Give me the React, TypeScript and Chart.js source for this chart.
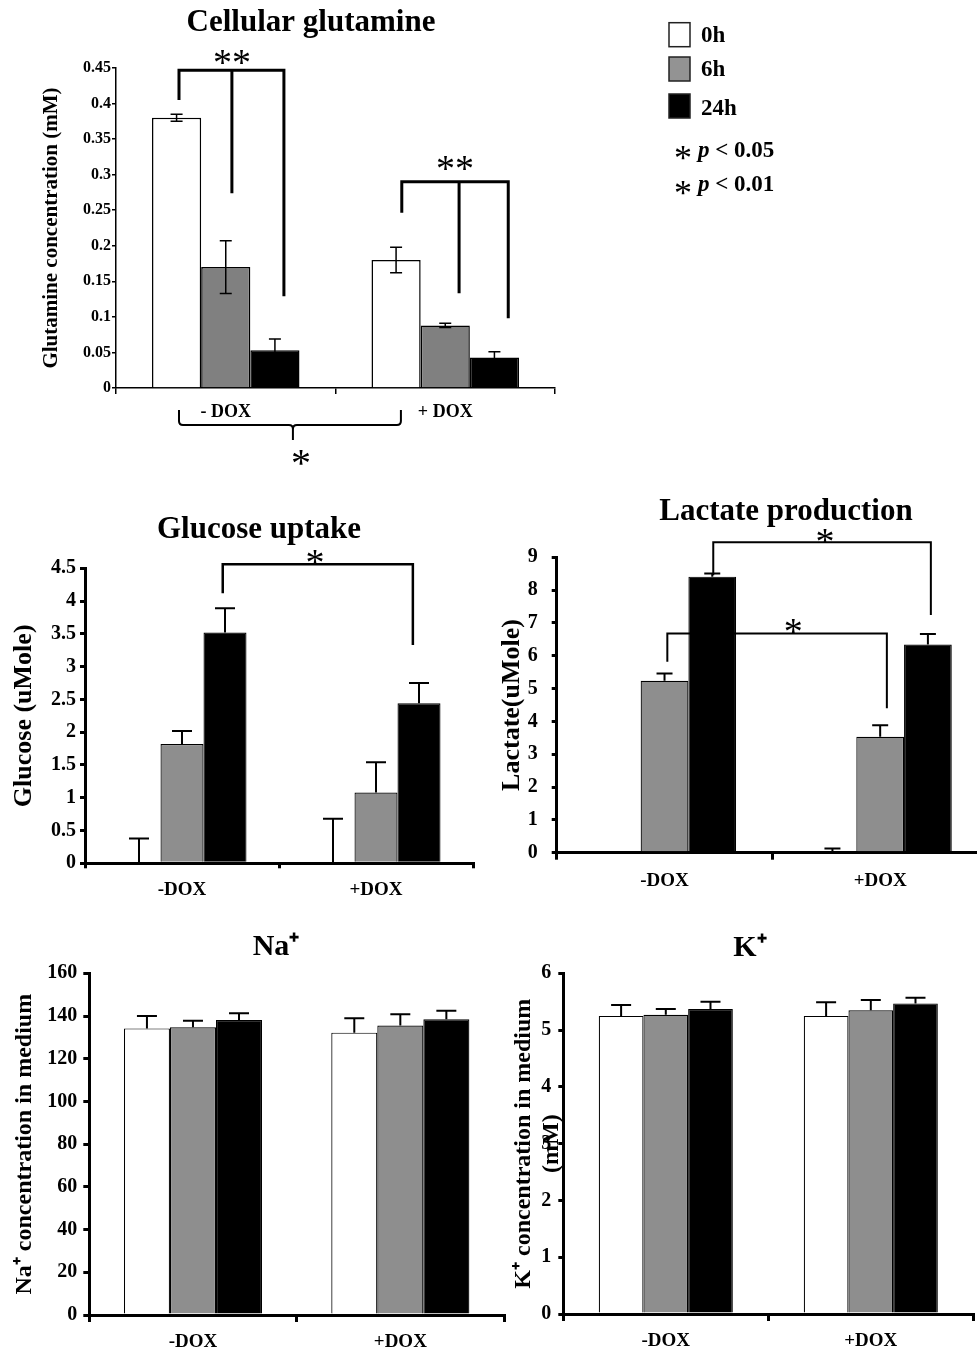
import React, { useEffect, useRef } from 'react';
import { Chart, registerables } from 'chart.js';

Chart.register(...registerables);

const SERIF = "'Liberation Serif', 'Times New Roman', Times, serif";

// ---------- shared ----------
const seriesNames = ['0h', '6h', '24h'];
const pNotes = ['< 0.05', '< 0.01'];

// ---------- Cellular glutamine ----------
const glutCategories = ['- DOX', '+ DOX'];
const glut0h = [0.38, 0.18];
const glut6h = [0.17, 0.088];
const glut24h = [0.053, 0.043];
const glut0hErr = [0.005, 0.018];
const glut6hErr = [0.037, 0.003];
const glut24hErr = [0.016, 0.008];
const glutTicks = [0, 0.05, 0.1, 0.15, 0.2, 0.25, 0.3, 0.35, 0.4, 0.45];
const glutTickLabels = ['0', '0.05', '0.1', '0.15', '0.2', '0.25', '0.3', '0.35', '0.4', '0.45'];

// ---------- Glucose uptake ----------
const doxCategories = ['-DOX', '+DOX'];
const glucose0h = [0, 0];
const glucose6h = [1.82, 1.08];
const glucose24h = [3.52, 2.44];
const glucose0hErr = [0.38, 0.68];
const glucose6hErr = [0.2, 0.46];
const glucose24hErr = [0.37, 0.31];
const glucoseTicks = [0, 0.5, 1, 1.5, 2, 2.5, 3, 3.5, 4, 4.5];
const glucoseTickLabels = ['0', '0.5', '1', '1.5', '2', '2.5', '3', '3.5', '4', '4.5'];

// ---------- Lactate production ----------
const lactate0h = [0, 0];
const lactate6h = [5.24, 3.53];
const lactate24h = [8.41, 6.34];
const lactate0hErr = [0, 0.13];
const lactate6hErr = [0.22, 0.35];
const lactate24hErr = [0.1, 0.32];
const lactateTicks = [0, 1, 2, 3, 4, 5, 6, 7, 8, 9];
const lactateTickLabels = ['0', '1', '2', '3', '4', '5', '6', '7', '8', '9'];

// ---------- Na+ ----------
const na0h = [134.2, 132.2];
const na6h = [134.7, 135.5];
const na24h = [138.1, 138.5];
const na0hErr = [5.8, 6.7];
const na6hErr = [3.1, 5.3];
const na24hErr = [3.2, 4.0];
const naTicks = [0, 20, 40, 60, 80, 100, 120, 140, 160];
const naTickLabels = ['0', '20', '40', '60', '80', '100', '120', '140', '160'];

// ---------- K+ ----------
const k0h = [5.25, 5.25];
const k6h = [5.27, 5.35];
const k24h = [5.37, 5.47];
const k0hErr = [0.19, 0.24];
const k6hErr = [0.1, 0.18];
const k24hErr = [0.13, 0.1];
const kTicks = [0, 1, 2, 3, 4, 5, 6];
const kTickLabels = ['0', '1', '2', '3', '4', '5', '6'];

// ---------- helpers ----------
function drawStar(ctx: any, text: string, x: number, cy: number, size: number) {
  ctx.save();
  ctx.font = `${size}px ${SERIF}`;
  ctx.fillStyle = '#000';
  ctx.textAlign = 'center';
  ctx.textBaseline = 'alphabetic';
  const m = ctx.measureText(text);
  const base = cy + (m.actualBoundingBoxAscent - m.actualBoundingBoxDescent) / 2;
  ctx.fillText(text, x, base);
  ctx.restore();
}

const errorBarPlugin = {
  id: 'errorBars',
  afterDatasetsDraw(chart: any, _args: any, opts: any) {
    const errs: number[][] = opts.errors;
    if (!errs) return;
    const ctx = chart.ctx;
    const ys = chart.scales.y;
    ctx.save();
    ctx.strokeStyle = '#000';
    ctx.lineWidth = opts.lineWidth;
    chart.data.datasets.forEach((ds: any, d: number) => {
      const meta = chart.getDatasetMeta(d);
      meta.data.forEach((bar: any, i: number) => {
        const e = errs[d][i];
        if (!e) return;
        const v = ds.data[i];
        const x = bar.x;
        const yTop = ys.getPixelForValue(v + e);
        const yBot = opts.twoSided ? ys.getPixelForValue(v - e) : ys.getPixelForValue(v);
        const c = opts.cap;
        ctx.beginPath();
        ctx.moveTo(x, yBot);
        ctx.lineTo(x, yTop);
        ctx.moveTo(x - c, yTop);
        ctx.lineTo(x + c, yTop);
        if (opts.twoSided) {
          ctx.moveTo(x - c, yBot);
          ctx.lineTo(x + c, yBot);
        }
        ctx.stroke();
      });
    });
    ctx.restore();
  },
};

const notesPlugin = {
  id: 'panelNotes',
  afterDraw(chart: any, _args: any, opts: any) {
    const ctx = chart.ctx;
    const xs = chart.scales.x;
    const ys = chart.scales.y;
    ctx.save();
    ctx.fillStyle = '#000';
    ctx.strokeStyle = '#000';
    if (opts.title) {
      const t = opts.title;
      ctx.font = `bold ${t.size}px ${SERIF}`;
      ctx.textAlign = 'center';
      ctx.textBaseline = 'alphabetic';
      ctx.fillText(t.text, t.x, t.y);
    }
    (opts.brackets || []).forEach((b: any) => {
      const top = ys.getPixelForValue(b.top);
      const px = b.xs.map((v: number) => xs.getPixelForValue(v));
      const ends = b.ends.map((v: number) => ys.getPixelForValue(v));
      ctx.lineWidth = b.lw;
      ctx.lineJoin = 'miter';
      ctx.beginPath();
      ctx.moveTo(px[0], ends[0]);
      ctx.lineTo(px[0], top);
      ctx.lineTo(px[px.length - 1], top);
      ctx.lineTo(px[px.length - 1], ends[ends.length - 1]);
      for (let k = 1; k < px.length - 1; k++) {
        ctx.moveTo(px[k], top);
        ctx.lineTo(px[k], ends[k]);
      }
      ctx.stroke();
      drawStar(ctx, b.label, xs.getPixelForValue(b.labelX), top + b.labelDy, b.labelSize);
    });
    if (opts.brace) {
      const b = opts.brace;
      const base = chart.chartArea.bottom;
      const x0 = xs.getPixelForValue(b.x0);
      const x1 = xs.getPixelForValue(b.x1);
      const xm = xs.getPixelForValue(b.xm);
      const yt = base + b.top;
      const ym = base + b.mid;
      const yp = base + b.tip;
      const r = 4;
      ctx.lineWidth = b.lw;
      ctx.beginPath();
      ctx.moveTo(x0, yt);
      ctx.lineTo(x0, ym - r);
      ctx.quadraticCurveTo(x0, ym, x0 + r, ym);
      ctx.lineTo(xm - r, ym);
      ctx.quadraticCurveTo(xm, ym, xm, ym + r);
      ctx.lineTo(xm, yp);
      ctx.moveTo(xm, ym + r);
      ctx.quadraticCurveTo(xm, ym, xm + r, ym);
      ctx.lineTo(x1 - r, ym);
      ctx.quadraticCurveTo(x1, ym, x1, ym - r);
      ctx.lineTo(x1, yt);
      ctx.stroke();
      drawStar(ctx, b.label, xm + b.labelDx, base + b.labelDy, b.labelSize);
    }
    ctx.restore();
  },
};

const sideLegendPlugin = {
  id: 'sideLegend',
  afterDraw(chart: any, _args: any, opts: any) {
    if (!opts.show) return;
    const ctx = chart.ctx;
    ctx.save();
    ctx.textAlign = 'left';
    ctx.textBaseline = 'alphabetic';
    chart.data.datasets.forEach((ds: any, i: number) => {
      ctx.fillStyle = opts.fills[i];
      ctx.fillRect(opts.boxX, opts.boxTops[i], opts.boxW, opts.boxH);
      ctx.strokeStyle = '#222';
      ctx.lineWidth = 1.5;
      ctx.strokeRect(opts.boxX, opts.boxTops[i], opts.boxW, opts.boxH);
      ctx.fillStyle = '#000';
      ctx.font = `bold ${opts.size}px ${SERIF}`;
      ctx.fillText(ds.label, opts.textX, opts.baselines[i]);
    });
    opts.notes.forEach((n: string, i: number) => {
      const bl = opts.noteBaselines[i];
      drawStar(ctx, '*', opts.starX, opts.starCenters[i], opts.starSize);
      ctx.fillStyle = '#000';
      ctx.font = `italic bold ${opts.size}px ${SERIF}`;
      ctx.fillText('p', opts.pX, bl);
      const w = ctx.measureText('p ').width;
      ctx.font = `bold ${opts.size}px ${SERIF}`;
      ctx.fillText(n, opts.pX + w, bl);
    });
    ctx.restore();
  },
};

type Spec = {
  categories: string[];
  values: number[][];
  errors: number[][];
  twoSided: boolean;
  fills: string[];
  ticks: number[];
  tickLabels: string[];
  yTitle: string | string[];
  yTitleSize: number;
  yTitlePad: number;
  yTickSize: number;
  yTickLen: number;
  yTickPad: number;
  xTickSize: number;
  xTickLen: number;
  xTickPad: number;
  axisWidth: number;
  yWidth: number;
  xHeight: number;
  padding: { left: number; top: number; right: number; bottom: number };
  catPct: number;
  barBorder: number;
  cap: number;
  errWidth: number;
  notes: any;
  legend?: any;
};

function makeConfig(p: Spec): any {
  return {
    type: 'bar',
    data: {
      labels: p.categories,
      datasets: p.values.map((vals, i) => ({
        label: seriesNames[i],
        data: vals,
        backgroundColor: p.fills[i],
        borderColor: '#000',
        borderWidth: p.barBorder,
        categoryPercentage: p.catPct,
        barPercentage: 1,
      })),
    },
    options: {
      responsive: false,
      animation: false,
      devicePixelRatio: 1,
      events: [],
      layout: { padding: p.padding },
      scales: {
        x: {
          type: 'category',
          offset: true,
          grid: {
            display: true,
            drawOnChartArea: false,
            drawTicks: true,
            tickLength: p.xTickLen,
            color: '#000',
            lineWidth: p.axisWidth,
            offset: true,
          },
          border: { display: true, color: '#000', width: p.axisWidth },
          ticks: {
            color: '#000',
            font: { family: SERIF, size: p.xTickSize, weight: 'bold' },
            padding: p.xTickPad,
            maxRotation: 0,
            autoSkip: false,
          },
          afterFit: (s: any) => {
            s.height = p.xHeight;
          },
        },
        y: {
          type: 'linear',
          min: p.ticks[0],
          max: p.ticks[p.ticks.length - 1],
          grid: {
            display: true,
            drawOnChartArea: false,
            drawTicks: true,
            tickLength: p.yTickLen,
            color: '#000',
            lineWidth: p.axisWidth,
          },
          border: { display: true, color: '#000', width: p.axisWidth },
          ticks: {
            color: '#000',
            font: { family: SERIF, size: p.yTickSize, weight: 'bold' },
            padding: p.yTickPad,
            callback: (_v: any, i: number) => p.tickLabels[i],
          },
          afterBuildTicks: (s: any) => {
            s.ticks = p.ticks.map((v) => ({ value: v }));
          },
          afterFit: (s: any) => {
            s.width = p.yWidth;
          },
          title: {
            display: true,
            text: p.yTitle,
            color: '#000',
            font: { family: SERIF, size: p.yTitleSize, weight: 'bold', lineHeight: 1.2 },
            padding: { top: p.yTitlePad, bottom: 0 },
          },
        },
      },
      plugins: {
        legend: { display: false },
        tooltip: { enabled: false },
        title: { display: false },
        errorBars: { errors: p.errors, twoSided: p.twoSided, cap: p.cap, lineWidth: p.errWidth },
        panelNotes: p.notes,
        sideLegend: p.legend || { show: false },
      },
    },
    plugins: [errorBarPlugin, notesPlugin, sideLegendPlugin],
  };
}

const buildGlutamine = () =>
  makeConfig({
    categories: glutCategories,
    values: [glut0h, glut6h, glut24h],
    errors: [glut0hErr, glut6hErr, glut24hErr],
    twoSided: true,
    fills: ['#ffffff', '#808080', '#000000'],
    ticks: glutTicks,
    tickLabels: glutTickLabels,
    yTitle: 'Glutamine concentration (mM)',
    yTitleSize: 21,
    yTitlePad: 39,
    yTickSize: 16,
    yTickLen: 4,
    yTickPad: 1,
    xTickSize: 18,
    xTickLen: 6,
    xTickPad: 8,
    axisWidth: 1.5,
    yWidth: 116,
    xHeight: 40,
    padding: { left: 0, top: 68, right: 422, bottom: 42 },
    catPct: 0.672,
    barBorder: 1.5,
    cap: 6,
    errWidth: 1.5,
    notes: {
      title: { text: 'Cellular glutamine', x: 311, y: 31, size: 31 },
      brackets: [
        { xs: [-0.213, 0.028, 0.265], top: 0.447, ends: [0.405, 0.274, 0.129], label: '**', labelX: 0.028, labelDy: -13, labelSize: 38, lw: 3 },
        { xs: [0.802, 1.063, 1.287], top: 0.29, ends: [0.2466, 0.1333, 0.098], label: '**', labelX: 1.044, labelDy: -18, labelSize: 38, lw: 3 },
      ],
      brace: { x0: -0.213, x1: 0.798, xm: 0.306, top: 22, mid: 37, tip: 52, lw: 2, label: '*', labelDx: 8, labelDy: 69, labelSize: 40 },
    },
    legend: {
      show: true,
      boxX: 669,
      boxW: 21,
      boxH: 24,
      boxTops: [22.7, 57, 94],
      fills: ['#ffffff', '#939393', '#000000'],
      textX: 701,
      baselines: [42.3, 76, 115],
      size: 23,
      notes: pNotes,
      noteBaselines: [156.7, 191],
      starX: 683,
      starCenters: [153, 188],
      starSize: 36,
      pX: 698,
    },
  });

const buildGlucose = () =>
  makeConfig({
    categories: doxCategories,
    values: [glucose0h, glucose6h, glucose24h],
    errors: [glucose0hErr, glucose6hErr, glucose24hErr],
    twoSided: false,
    fills: ['#ffffff', '#8e8e8e', '#000000'],
    ticks: glucoseTicks,
    tickLabels: glucoseTickLabels,
    yTitle: 'Glucose (uMole)',
    yTitleSize: 26,
    yTitlePad: 9,
    yTickSize: 20,
    yTickLen: 5,
    yTickPad: 4,
    xTickSize: 19,
    xTickLen: 5,
    xTickPad: 10,
    axisWidth: 3,
    yWidth: 85,
    xHeight: 40,
    padding: { left: 0, top: 88.3, right: 17, bottom: 6.7 },
    catPct: 0.665,
    barBorder: 1.2,
    cap: 10,
    errWidth: 2,
    notes: {
      title: { text: 'Glucose uptake', x: 259, y: 58, size: 31 },
      brackets: [
        { xs: [0.21, 1.19], top: 4.56, ends: [4.12, 3.33], label: '*', labelX: 0.686, labelDy: -7, labelSize: 38, lw: 2.5 },
      ],
    },
  });

const buildLactate = () =>
  makeConfig({
    categories: doxCategories,
    values: [lactate0h, lactate6h, lactate24h],
    errors: [lactate0hErr, lactate6hErr, lactate24hErr],
    twoSided: false,
    fills: ['#ffffff', '#8e8e8e', '#000000'],
    ticks: lactateTicks,
    tickLabels: lactateTickLabels,
    yTitle: 'Lactate(uMole)',
    yTitleSize: 26,
    yTitlePad: 7,
    yTickSize: 20,
    yTickLen: 5,
    yTickPad: 14,
    xTickSize: 19,
    xTickLen: 7,
    xTickPad: 10,
    axisWidth: 3,
    yWidth: 66.7,
    xHeight: 40,
    padding: { left: 0, top: 77.3, right: 12, bottom: 17.3 },
    catPct: 0.664,
    barBorder: 1.2,
    cap: 8,
    errWidth: 2,
    notes: {
      title: { text: 'Lactate production', x: 296, y: 40, size: 31 },
      brackets: [
        { xs: [0.226, 1.235], top: 9.46, ends: [8.45, 7.24], label: '*', labelX: 0.744, labelDy: -6, labelSize: 38, lw: 2 },
        { xs: [0.013, 1.031], top: 6.68, ends: [5.82, 4.4], label: '*', labelX: 0.597, labelDy: -7, labelSize: 38, lw: 2 },
      ],
    },
  });

const buildNa = () =>
  makeConfig({
    categories: doxCategories,
    values: [na0h, na6h, na24h],
    errors: [na0hErr, na6hErr, na24hErr],
    twoSided: false,
    fills: ['#ffffff', '#8e8e8e', '#000000'],
    ticks: naTicks,
    tickLabels: naTickLabels,
    yTitle: 'Na\u207A concentration in medium',
    yTitleSize: 24,
    yTitlePad: 10.6,
    yTickSize: 20,
    yTickLen: 6,
    yTickPad: 6,
    xTickSize: 19,
    xTickLen: 7,
    xTickPad: 9,
    axisWidth: 3,
    yWidth: 89.3,
    xHeight: 38,
    padding: { left: 0, top: 43.3, right: 16, bottom: 3 },
    catPct: 0.666,
    barBorder: 1.2,
    cap: 10,
    errWidth: 2,
    notes: {
      title: { text: 'Na\u207A', x: 276, y: 25, size: 30 },
    },
  });

const buildK = () =>
  makeConfig({
    categories: doxCategories,
    values: [k0h, k6h, k24h],
    errors: [k0hErr, k6hErr, k24hErr],
    twoSided: false,
    fills: ['#ffffff', '#8e8e8e', '#000000'],
    ticks: kTicks,
    tickLabels: kTickLabels,
    yTitle: ['K\u207A concentration in medium', '(mM)'],
    yTitleSize: 24,
    yTitlePad: 18.9,
    yTickSize: 20,
    yTickLen: 5,
    yTickPad: 7,
    xTickSize: 19,
    xTickLen: 7,
    xTickPad: 8.6,
    axisWidth: 3,
    yWidth: 73.3,
    xHeight: 38,
    padding: { left: 0, top: 43.3, right: 3.7, bottom: 4 },
    catPct: 0.654,
    barBorder: 1.2,
    cap: 10,
    errWidth: 2,
    notes: {
      title: { text: 'K\u207A', x: 260, y: 26, size: 30 },
    },
  });

function ChartCanvas(props: { left: number; top: number; width: number; height: number; build: () => any }) {
  const ref = useRef<HTMLCanvasElement | null>(null);
  useEffect(() => {
    if (!ref.current) return;
    const chart = new Chart(ref.current, props.build());
    return () => chart.destroy();
  }, []);
  return (
    <canvas
      ref={ref}
      width={props.width}
      height={props.height}
      style={{ position: 'absolute', left: props.left, top: props.top, width: props.width, height: props.height }}
    />
  );
}

export default function App() {
  return (
    <div
      style={{
        position: 'absolute',
        left: 0,
        top: 0,
        width: 977,
        height: 1356,
        overflow: 'hidden',
        background: '#ffffff',
      }}
    >
      <ChartCanvas left={0} top={0} width={977} height={470} build={buildGlutamine} />
      <ChartCanvas left={0} top={480} width={490} height={430} build={buildGlucose} />
      <ChartCanvas left={490} top={480} width={510} height={430} build={buildLactate} />
      <ChartCanvas left={0} top={930} width={520} height={426} build={buildNa} />
      <ChartCanvas left={490} top={930} width={487} height={426} build={buildK} />
    </div>
  );
}
